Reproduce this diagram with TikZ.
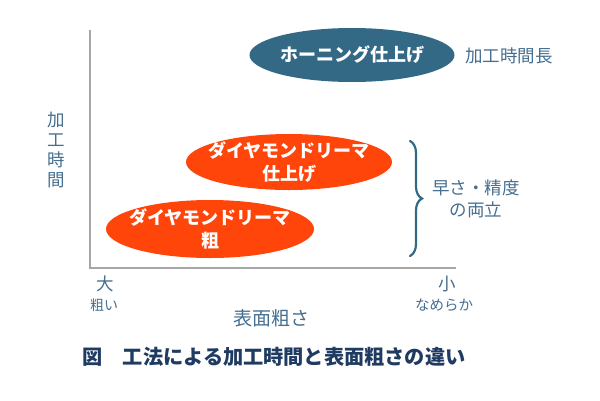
\documentclass[tikz,border=0pt]{standalone}
\usepackage{fontspec}
\setmainfont{Noto Sans CJK JP}
\usetikzlibrary{shapes.geometric,decorations.pathreplacing}
\definecolor{teal}{HTML}{336985}
\definecolor{orng}{HTML}{FF450A}
\definecolor{lbl}{HTML}{456E90}
\definecolor{cap}{HTML}{1F3B62}
\definecolor{axis}{HTML}{A6A6A6}
\tikzset{
  blob/.style={ellipse, draw=none, minimum width=#1, text=white, align=center,
    font=\fontsize{18}{22.5}\selectfont\bfseries, inner sep=-30pt},
  lab/.style={text=lbl, align=center, inner sep=0pt},
  axisline/.style={draw=axis, line width=1.4pt},
}
\begin{document}
\begin{tikzpicture}[x=1pt,y=-1pt]
\useasboundingbox (0,0) rectangle (600,400);
% axes
\coordinate (ytop) at (90,30);
\coordinate (origin) at (90,268);
\coordinate (xend) at (456,268);
\draw[axisline] (ytop) -- (origin) -- (xend);
% ellipses
\node[blob=205pt, minimum height=54pt, fill=teal] (hone) at (352,55) {ホーニング仕上げ};
\node[blob=206pt, minimum height=56pt, fill=orng] (dfin) at (289,162) {ダイヤモンドリーマ\\仕上げ};
\node[blob=208pt, minimum height=58pt, fill=orng] (drough) at (210,229) {ダイヤモンドリーマ\\粗};
% labels
\node[lab, font=\fontsize{17.5}{20}\selectfont] (long) at (509,56) {加工時間長};
\node[lab, font=\fontsize{17.5}{20}\selectfont] (ylab) at (56,150) {加\\工\\時\\間};
\node[lab, font=\fontsize{17.5}{20}\selectfont] (big) at (105,284) {大};
\node[lab, font=\fontsize{14}{16}\selectfont] (rough) at (104,305) {粗い};
\node[lab, font=\fontsize{17.5}{20}\selectfont] (small) at (447,284) {小};
\node[lab, font=\fontsize{14.5}{16}\selectfont] (smooth) at (444,305) {なめらか};
\node[lab, font=\fontsize{19}{22}\selectfont] (xlab) at (271,318) {表面粗さ};
\node[lab, font=\fontsize{17.5}{22}\selectfont] (both) at (476,199) {早さ・精度\\の両立};
% brace
\coordinate (btop) at (410,141);
\coordinate (bbot) at (410,256);
\draw[teal, line width=2.2pt, line cap=round, decorate, decoration={brace, amplitude=12pt}] (btop) -- (bbot);
% caption
\node[text=cap, font=\fontsize{20.2}{24}\selectfont\bfseries, inner sep=0pt] (caption) at (274,357) {図　工法による加工時間と表面粗さの違い};
\end{tikzpicture}
\end{document}
